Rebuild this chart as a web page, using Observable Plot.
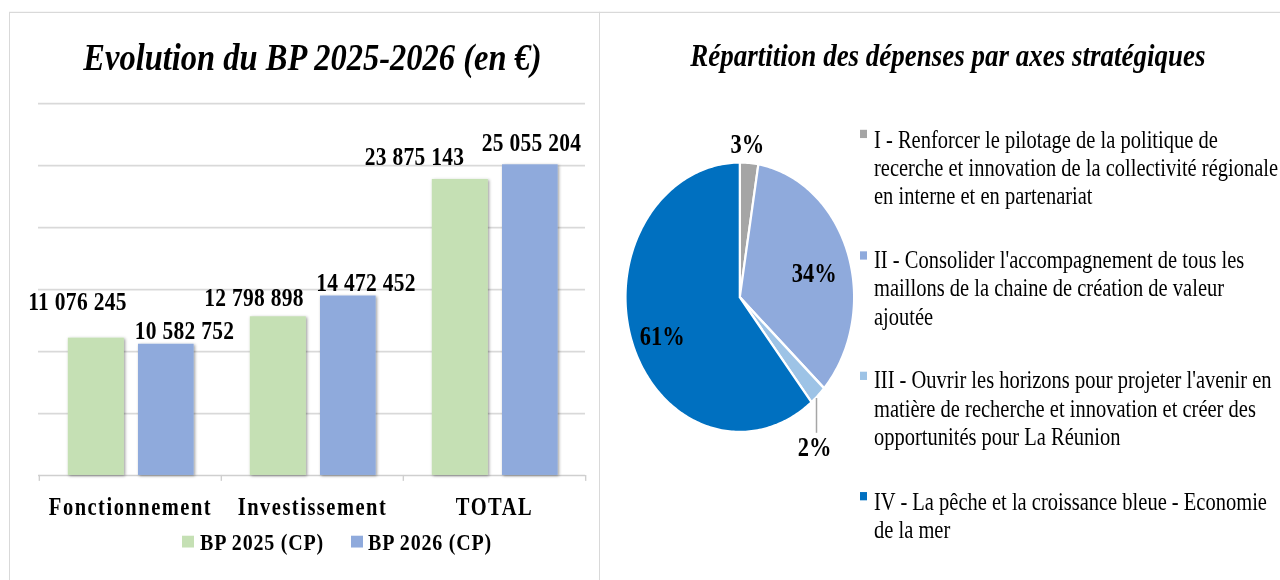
<!DOCTYPE html>
<html>
<head>
<meta charset="utf-8">
<script src="https://cdn.jsdelivr.net/npm/d3@7"></script>
<script src="https://cdn.jsdelivr.net/npm/@observablehq/plot@0.6"></script>
<style>
  html, body { margin: 0; padding: 0; background: #fff; width: 1280px; height: 580px; overflow: hidden; }
  #stage { position: absolute; left: 0; top: 0; width: 1280px; height: 492px;
           transform: scaleY(1.18); transform-origin: 0 0;
           font-family: "Liberation Serif", "Times New Roman", serif; color: #000; }
  .panel { position: absolute; box-sizing: border-box; border: 1px solid #d9d9d9; }
  .title { position: absolute; font-weight: bold; font-style: italic; text-align: center;
           white-space: nowrap; line-height: 1; }
  .abs { position: absolute; }
  .legtext { position: absolute; font-weight: bold; font-size: 20px; letter-spacing: 0.8px;
             line-height: 1; white-space: nowrap; }
  .key { position: absolute; }
  .ritem { position: absolute; left: 874px; font-size: 20.5px; line-height: 24px; white-space: nowrap; }
</style>
</head>
<body>
<div id="stage">
  <div class="panel" style="left:9px; top:10.2px; width:591px; height:520px;"></div>
  <div class="panel" style="left:599px; top:10.2px; width:720px; height:520px;"></div>
  <div class="title" id="titleL" style="left:0px; width:625px; top:31.5px; font-size:32.5px;"></div>
  <div class="title" id="titleR" style="left:600px; width:696px; top:34px; font-size:27px;"></div>
  <div class="abs" id="barChart" style="left:0; top:0;"></div>
  <div class="abs" id="pieChart" style="left:600px; top:0;"></div>
  <div id="legendL"></div>
  <div id="legendR"></div>
</div>
<script>
// ---------- data ----------
const titleLeft = "Evolution du BP 2025-2026 (en €)";
const titleRight = "Répartition des dépenses par axes stratégiques";

const categories = ["Fonctionnement", "Investissement", "TOTAL"];
const seriesNames = ["BP 2025 (CP)", "BP 2026 (CP)"];
const bp2025 = [11076245, 12798898, 23875143];
const bp2026 = [10582752, 14472452, 25055204];
const yTicks = [0, 5e6, 10e6, 15e6, 20e6, 25e6, 30e6];

const axisNames = ["I", "II", "III", "IV"];
const axisShares = [2.6, 34.2, 2.4, 60.8]; // percent of spending
const axisLegendLines = [
  ["I - Renforcer le pilotage de la politique de", "recerche et innovation de la collectivité régionale", "en interne et en partenariat"],
  ["II - Consolider l'accompagnement de tous les", "maillons de la chaine de création de valeur", "ajoutée"],
  ["III - Ouvrir les horizons pour projeter l'avenir en", "matière de recherche et innovation et créer des", "opportunités pour La Réunion"],
  ["IV - La pêche et la croissance bleue - Economie", "de la mer"]
];

// ---------- styles / layout ----------
const barColors = ["#C5E0B4", "#8FAADC"];
const pieColors = ["#A5A5A5", "#8FAADC", "#9DC3E6", "#0070C0"];
const gridColor = "#d9d9d9";

document.getElementById("titleL").textContent = titleLeft;
document.getElementById("titleR").textContent = titleRight;

const fr = d3.formatLocale({decimal: ",", thousands: "\u00a0", grouping: [3], currency: ["", " €"]});
const fmt = fr.format(",d");

const rows = categories.flatMap((c, i) => [
  {category: c, series: seriesNames[0], value: bp2025[i]},
  {category: c, series: seriesNames[1], value: bp2026[i]}
]);

// bar chart geometry (pre-stretch pixels)
const W = 600, H = 445, mL = 38, mR = 15, mT = 87.3, mB = 42.5;
const step = (W - mL - mR) / categories.length;
const frameH = H - mT - mB;
// manual nudges of value labels (as placed in the original)
const labelNudge = [[-53, -30.6], [54, -11.6], [-58.5, -15.9], [53.5, -11.4], [-80, -19.1], [37, -18.5]];
const barInsets = [[28.8, step - 85.2], [99, step - 155]];

const barPlot = Plot.plot({
  width: W, height: H,
  marginLeft: mL, marginRight: mR, marginTop: mT, marginBottom: mB,
  style: {fontFamily: "'Liberation Serif', 'Times New Roman', serif", color: "#000", background: "transparent", overflow: "visible"},
  x: {type: "band", domain: categories, padding: 0},
  y: {domain: [0, 30e6], axis: null},
  marks: [
    Plot.ruleY(yTicks.slice(1), {stroke: gridColor, strokeWidth: 1.4}),
    Plot.ruleY([0], {stroke: "#cfcfcf", strokeWidth: 1.4}),
    Plot.ruleX(categories, {x: d => d, dx: -step / 2, insetTop: frameH, insetBottom: -5, stroke: "#cfcfcf", strokeWidth: 1.4}),
    Plot.ruleX([categories[categories.length - 1]], {x: d => d, dx: step / 2, insetTop: frameH, insetBottom: -5, stroke: "#cfcfcf", strokeWidth: 1.4}),
    ...seriesNames.map((s, k) => Plot.barY(rows.filter(d => d.series === s), {
      x: "category", y: "value", fill: barColors[k],
      insetLeft: barInsets[k][0], insetRight: barInsets[k][1]
    })),
    ...rows.map((r, i) => Plot.text([r], {
      x: "category", y: "value", text: d => fmt(d.value),
      dx: labelNudge[i][0], dy: labelNudge[i][1],
      fontSize: 21.5, fontWeight: "bold", fill: "#000"
    })),
    Plot.axisX({tickSize: 0, tickPadding: 18.5, fontSize: 20.5, fontWeight: "bold", label: null, fill: "#000"})
  ]
});
document.getElementById("barChart").appendChild(barPlot);

// bar shadows + letter spacing
{
  const svg = d3.select(barPlot);
  const defs = svg.insert("defs", ":first-child");
  const f = defs.append("filter").attr("id", "barShadow").attr("x", "-20%").attr("y", "-10%").attr("width", "140%").attr("height", "120%");
  f.append("feDropShadow").attr("dx", 1.2).attr("dy", 0.8).attr("stdDeviation", 1.5)
    .attr("flood-color", "#000").attr("flood-opacity", 0.4);
  svg.selectAll('g[aria-label="bar"]').attr("filter", "url(#barShadow)");
  svg.selectAll('g[aria-label="text"] text').style("letter-spacing", "0.3px");
  svg.selectAll('g[aria-label="x-axis tick label"] text').style("letter-spacing", "1.5px");
}

// bottom legend of bar chart
{
  const leg = document.getElementById("legendL");
  const keyX = [181.7, 351], textX = [200, 368];
  seriesNames.forEach((s, k) => {
    const sq = document.createElement("div");
    sq.className = "key";
    Object.assign(sq.style, {left: keyX[k] + "px", top: "454px", width: "12.3px", height: "10px", background: barColors[k]});
    leg.appendChild(sq);
    const t = document.createElement("div");
    t.className = "legtext";
    Object.assign(t.style, {left: textX[k] + "px", top: "449.2px"});
    t.textContent = s;
    leg.appendChild(t);
  });
}

// ---------- pie ----------
const R = 114.3, cx = 139.3, cy = 251.4; // pre-stretch pixels inside the pie SVG
const arcs = d3.pie().sort(null).value(d => d)(axisShares);
const piePts = arcs.flatMap((a, i) => {
  const n = Math.max(2, Math.ceil((a.endAngle - a.startAngle) / (Math.PI / 180)));
  const pts = [{name: axisNames[i], x: 0, y: 0}];
  for (let k = 0; k <= n; k++) {
    const t = a.startAngle + (a.endAngle - a.startAngle) * k / n;
    pts.push({name: axisNames[i], x: Math.sin(t), y: Math.cos(t)});
  }
  pts.push({name: axisNames[i], x: 0, y: 0});
  return pts;
});
// label placement: radius (in pie radii) and pixel nudges
const pieLabelLayout = [[1.135, -3, 0], [0.69, 0, 6], [1.14, -14.5, 32.4], [0.72, 0, 6]];
const pieLabels = arcs.map((a, i) => {
  const m = (a.startAngle + a.endAngle) / 2;
  const [r, nx, ny] = pieLabelLayout[i];
  return {
    name: axisNames[i],
    x: r * Math.sin(m) + nx / R,
    y: r * Math.cos(m) - ny / R,
    text: Math.round(axisShares[i]) + "%"
  };
});
const lead = pieLabels[2];
const leaderX = lead.x + 2 / R;
const leader = [{x: leaderX, y1: -Math.sqrt(1 - leaderX * leaderX) - 0.01, y2: lead.y + 12 / R}];

const piePlot = Plot.plot({
  width: 680, height: 492, margin: 0,
  style: {fontFamily: "'Liberation Serif', 'Times New Roman', serif", color: "#000", background: "transparent", overflow: "visible"},
  x: {domain: [-1, 1], range: [cx - R, cx + R], axis: null},
  y: {domain: [-1, 1], range: [cy + R, cy - R], axis: null},
  color: {domain: axisNames, range: pieColors},
  marks: [
    Plot.line(piePts, {x: "x", y: "y", z: "name", fill: "name", stroke: "white", strokeWidth: 2.2, strokeLinejoin: "round", curve: "linear"}),
    Plot.ruleX(leader, {x: "x", y1: "y1", y2: "y2", stroke: "#a6a6a6", strokeWidth: 1.5}),
    Plot.text(pieLabels, {x: "x", y: "y", text: "text", fontSize: 22.5, fontWeight: "bold", fill: "#000"})
  ]
});
document.getElementById("pieChart").appendChild(piePlot);

// right legend
{
  const leg = document.getElementById("legendR");
  const top0 = 105.6, pitch = 102.4;
  axisLegendLines.forEach((lines, i) => {
    const top = top0 + pitch * i;
    const sq = document.createElement("div");
    sq.className = "key";
    Object.assign(sq.style, {left: "860.3px", top: (top + 4.6) + "px", width: "6.6px", height: "7px", background: pieColors[i]});
    leg.appendChild(sq);
    const t = document.createElement("div");
    t.className = "ritem";
    t.style.top = top + "px";
    t.innerHTML = lines.map(l => l.replace(/&/g, "&amp;").replace(/</g, "&lt;")).join("<br>");
    leg.appendChild(t);
  });
}
</script>
</body>
</html>
